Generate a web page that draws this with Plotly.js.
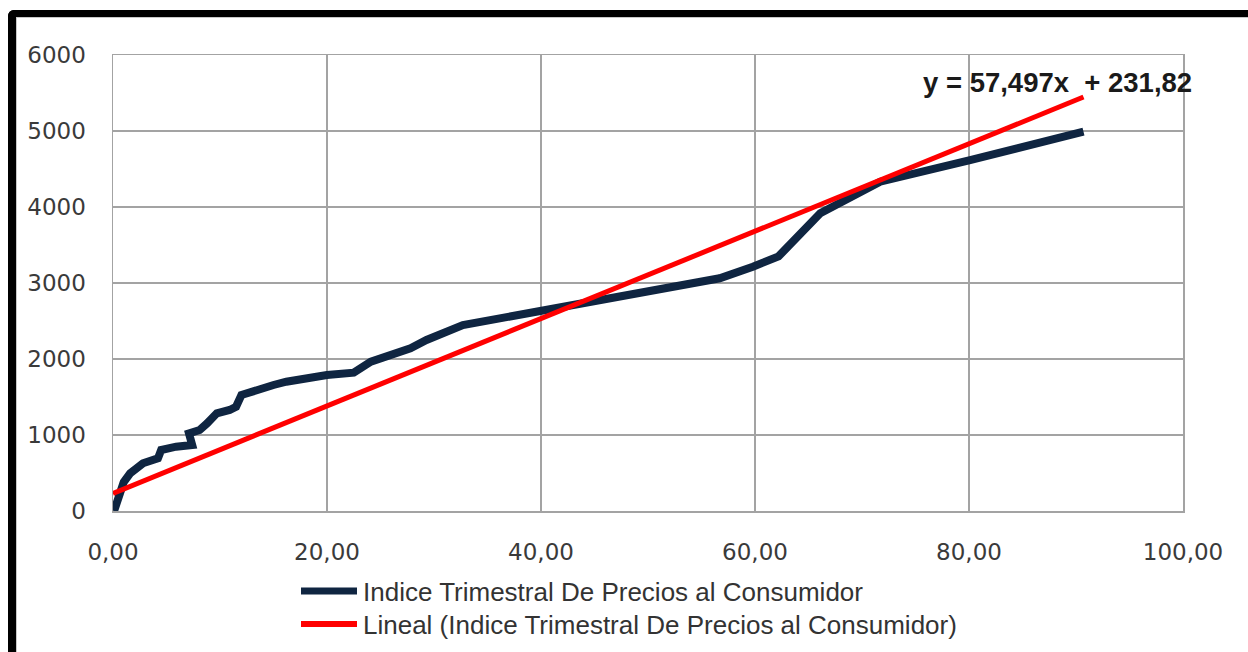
<!DOCTYPE html>
<html>
<head>
<meta charset="utf-8">
<script src="https://cdn.plot.ly/plotly-3.0.1.min.js"></script>
<style>
  html, body { margin: 0; padding: 0; background: #fff; width: 1248px; height: 652px; overflow: hidden; }
  #frame { position: absolute; left: 8px; top: 10px; width: 1240px; height: 642px;
           border-top: 7px solid #000; border-left: 8px solid #000; border-top-left-radius: 6px; box-sizing: border-box; }
  #chart { position: absolute; left: 16px; top: 17px; width: 1232px; height: 635px;
           border-top: 1px solid #c8c8c8; border-left: 1px solid #c8c8c8; box-sizing: border-box; }
</style>
</head>
<body>
<div id="frame"></div>
<div id="chart"></div>
<script>
// ---- data ----
const seriesName = "Indice Trimestral De Precios al Consumidor";
const trendName = "Lineal (Indice Trimestral De Precios al Consumidor)";
const xValues = [0.1, 0.5, 1.0, 1.6, 2.8, 4.2, 4.5, 5.9, 7.4, 7.1, 8.1, 8.8, 9.7, 10.9, 11.5, 12.0, 13.4, 15.0, 16.2, 18.4, 20.0, 22.5, 24.1, 27.8, 29.3, 32.7, 40.0, 47.4, 56.7, 59.8, 62.2, 66.1, 71.7, 80.1, 90.7];
const yValues = [0, 188, 380, 496, 628, 693, 803, 846, 868, 1022, 1066, 1154, 1286, 1329, 1372, 1526, 1600, 1658, 1701, 1767, 1789, 1820, 1964, 2141, 2250, 2447, 2640, 2820, 3062, 3214, 3350, 3917, 4333, 4618, 4991];
const trendSlope = [57.497];
const trendIntercept = [231.82];
const equationText = "y = 57,497x  + 231,82";
const xTicks = [0, 20, 40, 60, 80, 100];
const yTicks = [0, 1000, 2000, 3000, 4000, 5000, 6000];

// trend line over the series' x range (from the displayed equation)
const xTrend = [0, Math.max(...xValues)];
const yTrend = xTrend.map(x => trendSlope[0] * x + trendIntercept[0]);

// ---- layout helpers (page pixel -> paper) ----
const L = 97, R = 65, T = 38, B = 141, W = 1232, H = 635;
const pw = W - L - R, ph = H - T - B;
const px = xp => (xp - 16 - L) / pw;
const py = yp => (H - B + 17 - yp) / ph;

const navy = "#0f2541";
const red = "#ff0000";
const gridColor = "#a3a3a3";
const tickFont = { family: "DejaVu Sans, Verdana, sans-serif", size: 23, color: "#3a3a3a" };
const legendFont = { family: "Liberation Sans, Arial, sans-serif", size: 26, color: "#333333" };

const traces = [
  { x: xValues, y: yValues, type: "scatter", mode: "lines", name: seriesName,
    line: { color: navy, width: 8, shape: "linear" }, showlegend: false },
  { x: xTrend, y: yTrend, type: "scatter", mode: "lines", name: trendName,
    line: { color: red, width: 5 }, showlegend: false }
];

const layout = {
  width: W - 1, height: H - 1,
  margin: { l: L - 1, r: R, t: T - 1, b: B },
  paper_bgcolor: "#ffffff", plot_bgcolor: "#ffffff",
  separators: ",.",
  showlegend: false,
  xaxis: {
    range: [0, 100], tickvals: xTicks, tickformat: ".2f",
    showgrid: true, gridcolor: gridColor, gridwidth: 1.5,
    showline: true, linecolor: gridColor, linewidth: 1.5, mirror: true,
    zeroline: false, ticks: "", tickfont: tickFont, ticklabelstandoff: 20, fixedrange: true
  },
  yaxis: {
    range: [0, 6000], tickvals: yTicks,
    showgrid: true, gridcolor: gridColor, gridwidth: 1.5,
    showline: true, linecolor: gridColor, linewidth: 1.5, mirror: true,
    zeroline: false, ticks: "", tickfont: tickFont, ticklabelstandoff: 21, fixedrange: true
  },
  annotations: [
    { text: "<b>" + equationText + "</b>", xref: "paper", yref: "paper",
      x: px(1057), y: py(82), xanchor: "center", yanchor: "middle", showarrow: false,
      font: { family: "Liberation Sans, Arial, sans-serif", size: 27.5, color: "#1a1a1a" } },
    { text: seriesName, xref: "paper", yref: "paper", x: px(361), y: py(592),
      xanchor: "left", yanchor: "middle", showarrow: false, font: legendFont },
    { text: trendName, xref: "paper", yref: "paper", x: px(361), y: py(625),
      xanchor: "left", yanchor: "middle", showarrow: false, font: legendFont }
  ],
  shapes: [
    { type: "line", xref: "paper", yref: "paper", x0: px(301), x1: px(357), y0: py(591), y1: py(591),
      line: { color: navy, width: 7 } },
    { type: "line", xref: "paper", yref: "paper", x0: px(301), x1: px(357), y0: py(624), y1: py(624),
      line: { color: red, width: 6 } }
  ]
};

Plotly.newPlot("chart", traces, layout, { displayModeBar: false, staticPlot: true });
</script>
</body>
</html>
